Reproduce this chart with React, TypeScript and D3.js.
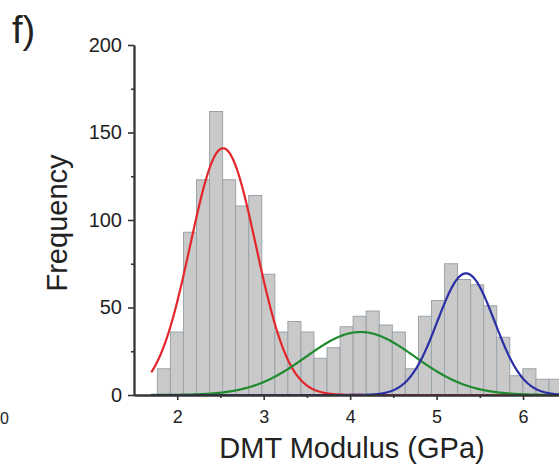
import React, { useRef, useEffect } from "react";
import * as d3 from "d3";

// histogram of DMT modulus (GPa), bins of ~0.15 GPa
const binStart = 1.77;
const binWidth = 0.151;
const counts = [
  15, 36, 93, 123, 162, 123, 108, 114, 69, 36, 42, 36, 21, 27, 39, 45, 48, 40,
  36, 15, 45, 54, 75, 66, 63, 51, 33, 11, 15, 9, 9,
];

// gaussian fit peaks
const fitColors = ["#e3262b", "#1f8a2e", "#2b2fa6"];
const fitCentres = [2.53, 4.12, 5.34];
const fitHeights = [141, 36, 69.5];
const fitSigmas = [0.38, 0.63, 0.33];
const fitRange = [1.7, 6.7];

const yMajorTicks = [0, 50, 100, 150, 200];
const yMinorTicks = [25, 75, 125, 175];
const xMajorTicks = [2, 3, 4, 5, 6];
const xMinorTicks = [2.5, 3.5, 4.5, 5.5, 6.5];

const W = 559;
const H = 466;
const FONT = "'Liberation Sans', Arial, Helvetica, sans-serif";

export default function App() {
  const svgRef = useRef<SVGSVGElement | null>(null);

  useEffect(() => {
    const svg = d3.select(svgRef.current);
    svg.selectAll("*").remove();

    const x = d3.scaleLinear().domain([1.5, 7]).range([134, 134 + 5.5 * 86.45]);
    const y = d3.scaleLinear().domain([0, 200]).range([395, 45]);

    // bars
    svg
      .append("g")
      .selectAll("rect")
      .data(counts)
      .join("rect")
      .attr("x", (d, i) => x(binStart + i * binWidth))
      .attr("width", x(binStart + binWidth) - x(binStart))
      .attr("y", (d) => y(d))
      .attr("height", (d) => y(0) - y(d))
      .attr("fill", "#c9c9c9")
      .attr("stroke", "#9aa3ab")
      .attr("stroke-width", 1);

    // fitted peaks
    const steps = d3.range(fitRange[0], fitRange[1], 0.01);
    fitCentres.forEach((mu, k) => {
      const line = d3
        .line<number>()
        .x((t) => x(t))
        .y((t) =>
          y(fitHeights[k] * Math.exp(-((t - mu) ** 2) / (2 * fitSigmas[k] ** 2)))
        );
      svg
        .append("path")
        .attr("d", line(steps))
        .attr("fill", "none")
        .attr("stroke", fitColors[k])
        .attr("stroke-width", 2.2);
    });

    const styleAxis = (g: any, size: number) => {
      g.select(".domain").attr("stroke", "#333").attr("stroke-width", 1.8);
      g.selectAll(".tick line").attr("stroke", "#333").attr("stroke-width", 1.6);
      g.selectAll("text")
        .attr("fill", "#222")
        .attr("font-size", size)
        .attr("font-family", FONT);
    };

    // x axis
    svg
      .append("g")
      .attr("transform", `translate(0,${y(0)})`)
      .call(d3.axisBottom(x).tickValues(xMinorTicks).tickSize(3).tickFormat(() => "").tickSizeOuter(0))
      .call((g) => styleAxis(g, 18));
    svg
      .append("g")
      .attr("transform", `translate(0,${y(0)})`)
      .call(d3.axisBottom(x).tickValues(xMajorTicks).tickSize(5).tickPadding(10).tickFormat(d3.format("d")).tickSizeOuter(0))
      .call((g) => styleAxis(g, 18));

    // y axis
    svg
      .append("g")
      .attr("transform", `translate(${x(1.5)},0)`)
      .call(d3.axisLeft(y).tickValues(yMinorTicks).tickSize(3).tickFormat(() => "").tickSizeOuter(0))
      .call((g) => styleAxis(g, 20));
    svg
      .append("g")
      .attr("transform", `translate(${x(1.5)},0)`)
      .call(d3.axisLeft(y).tickValues(yMajorTicks).tickSize(6).tickPadding(6).tickSizeOuter(0))
      .call((g) => styleAxis(g, 20));

    // titles
    svg
      .append("text")
      .attr("x", 352)
      .attr("y", 458)
      .attr("text-anchor", "middle")
      .attr("font-size", 29)
      .attr("font-family", FONT)
      .attr("fill", "#222")
      .text("DMT Modulus (GPa)");

    svg
      .append("text")
      .attr("transform", "translate(67,223) rotate(-90)")
      .attr("text-anchor", "middle")
      .attr("font-size", 29)
      .attr("font-family", FONT)
      .attr("fill", "#222")
      .text("Frequency");

    svg
      .append("text")
      .attr("x", 12)
      .attr("y", 43)
      .attr("font-size", 38)
      .attr("font-family", FONT)
      .attr("fill", "#222")
      .text("f)");

    // label left over from the neighbouring panel
    svg
      .append("text")
      .attr("x", 0)
      .attr("y", 424)
      .attr("text-anchor", "start")
      .attr("font-size", 16)
      .attr("font-family", FONT)
      .attr("fill", "#222")
      .text("0");
  }, []);

  return (
    <svg
      ref={svgRef}
      width={W}
      height={H}
      style={{ position: "absolute", left: 0, top: 0, background: "#fff" }}
    />
  );
}
